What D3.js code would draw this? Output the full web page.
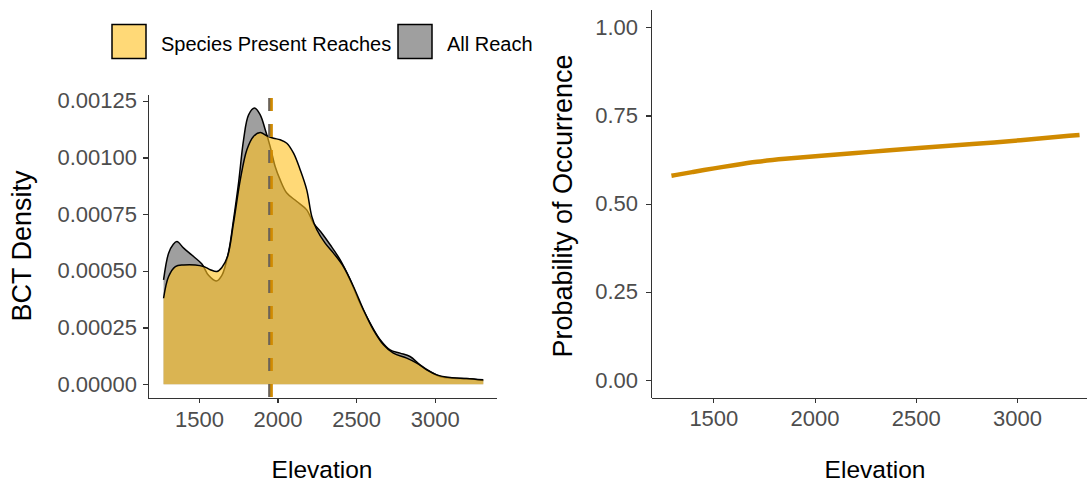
<!DOCTYPE html>
<html lang="en">
<head>
  <meta charset="UTF-8">
  <title>BCT elevation</title>
  <script src="https://cdn.jsdelivr.net/npm/d3@7"></script>
  <style>
    body { margin: 0; background: #fff; }
    svg { font-family: "Liberation Sans", Arial, sans-serif; }
    .axis path, .axis line { stroke: #333; stroke-width: 1.1px; shape-rendering: crispEdges; }
    .axis text { fill: #4d4d4d; font-size: 22px; }
    .title { fill: #000; font-size: 24.5px; }
    .ytitle { fill: #000; font-size: 27px; }
    .legend text { fill: #000; font-size: 20px; }
  </style>
</head>
<body>
<svg width="1087" height="488"></svg>
<script>
  // all reaches density
  var allElev = [1275, 1307, 1335, 1360, 1403, 1466, 1519, 1561, 1610, 1646, 1689, 1720, 1752, 1784, 1816, 1854, 1890, 1922, 1953, 1985, 2017, 2059, 2123, 2186, 2229, 2282, 2335, 2398, 2462, 2525, 2589, 2653, 2716, 2780, 2843, 2907, 2970, 3034, 3119, 3225, 3309];
  var allDens = [0.00046, 0.000578, 0.000615, 0.000629, 0.0006, 0.000563, 0.00053, 0.00048, 0.000455, 0.00048, 0.000585, 0.000725, 0.000887, 0.001078, 0.001188, 0.001218, 0.001188, 0.001122, 0.001049, 0.00096, 0.000901, 0.000843, 0.000806, 0.000769, 0.00071, 0.000666, 0.000615, 0.000549, 0.00046, 0.000357, 0.000269, 0.000196, 0.000151, 0.000137, 0.000122, 0.000085, 0.000056, 0.000034, 0.000026, 0.000024, 0.000016];

  // species present reaches density
  var sppElev = [1275, 1307, 1350, 1403, 1477, 1530, 1572, 1614, 1646, 1682, 1720, 1763, 1805, 1847, 1890, 1932, 1975, 2017, 2059, 2102, 2144, 2186, 2218, 2250, 2303, 2356, 2419, 2483, 2547, 2610, 2674, 2737, 2822, 2886, 2949, 3013, 3098, 3203, 3309];
  var sppDens = [0.000379, 0.000475, 0.000519, 0.000526, 0.000526, 0.000519, 0.000505, 0.000497, 0.000515, 0.000563, 0.00071, 0.000901, 0.001034, 0.001093, 0.00111, 0.001096, 0.001085, 0.001078, 0.001063, 0.001019, 0.000946, 0.000857, 0.00074, 0.000681, 0.000622, 0.000578, 0.000519, 0.000431, 0.000328, 0.00024, 0.000174, 0.000137, 0.000115, 0.000093, 0.000063, 0.000041, 0.000029, 0.000025, 0.000019];

  // mean elevations (dashed lines)
  var meanAll = 1950;
  var meanSpp = 1962;

  // probability of occurrence
  var probElev = [1293, 1400, 1503, 1610, 1710, 1850, 2019, 2279, 2503, 2795, 3000, 3309];
  var probVal = [0.579, 0.59, 0.600, 0.610, 0.619, 0.627, 0.635, 0.647, 0.658, 0.669, 0.679, 0.695];

  var elevTicks = [1500, 2000, 2500, 3000];
  var densTicks = [0, 0.00025, 0.0005, 0.00075, 0.001, 0.00125];
  var probTicks = [0, 0.25, 0.5, 0.75, 1];
  var legendLabels = ["Species Present Reaches", "All Reach"];

  var svg = d3.select("svg");
  var gold = "#d08a00";

  // ---- left panel: densities ----
  var x1 = d3.scaleLinear().domain([1176, 3390]).range([148, 496]);
  var y1 = d3.scaleLinear().domain([-0.000061, 0.00128]).range([398, 94]);

  var area = d3.area()
      .curve(d3.curveCatmullRom)
      .x(function(d) { return x1(d[0]); })
      .y0(y1(0))
      .y1(function(d) { return y1(d[1]); });
  var line = d3.line()
      .curve(d3.curveCatmullRom)
      .x(function(d) { return x1(d[0]); })
      .y(function(d) { return y1(d[1]); });

  var allData = d3.zip(allElev, allDens);
  var sppData = d3.zip(sppElev, sppDens);

  var left = svg.append("g");

  left.append("path").datum(allData).attr("d", area)
      .attr("fill", "#404040").attr("fill-opacity", 0.5);
  left.append("path").datum(allData).attr("d", line)
      .attr("fill", "none").attr("stroke", "#000").attr("stroke-width", 1.5);
  left.append("path").datum(sppData).attr("d", area)
      .attr("fill", "#ffc121").attr("fill-opacity", 0.61);
  left.append("path").datum(sppData).attr("d", line)
      .attr("fill", "none").attr("stroke", "#000").attr("stroke-width", 1.5);

  left.append("line")
      .attr("x1", x1(meanAll)).attr("x2", x1(meanAll))
      .attr("y1", 94).attr("y2", 398)
      .attr("stroke", "#6b6258").attr("stroke-width", 3)
      .attr("stroke-dasharray", "13,13").attr("stroke-dashoffset", 22);
  left.append("line")
      .attr("x1", x1(meanSpp)).attr("x2", x1(meanSpp))
      .attr("y1", 94).attr("y2", 398)
      .attr("stroke", gold).attr("stroke-width", 2.6)
      .attr("stroke-dasharray", "13,13").attr("stroke-dashoffset", 22);

  left.append("g")
      .attr("class", "axis")
      .attr("transform", "translate(0,398)")
      .call(d3.axisBottom(x1).tickValues(elevTicks).tickFormat(d3.format("d")).tickSize(5).tickPadding(8).tickSizeOuter(0));
  left.append("g")
      .attr("class", "axis")
      .attr("transform", "translate(148,0)")
      .call(d3.axisLeft(y1).tickValues(densTicks).tickFormat(d3.format(".5f")).tickSize(5).tickPadding(6).tickSizeOuter(0));

  left.append("text").attr("class", "title")
      .attr("x", 322).attr("y", 478).attr("text-anchor", "middle")
      .text("Elevation");
  left.append("text").attr("class", "ytitle")
      .attr("transform", "translate(31,246) rotate(-90)")
      .attr("text-anchor", "middle")
      .text("BCT Density");

  // legend
  var legend = svg.append("g").attr("class", "legend");
  var keyFill = [["#ffc121", 0.61], ["#404040", 0.5]];
  var keyX = [112, 398];
  legendLabels.forEach(function(lab, i) {
    legend.append("rect")
        .attr("x", keyX[i]).attr("y", 24.5).attr("width", 34).attr("height", 34)
        .attr("fill", keyFill[i][0]).attr("fill-opacity", keyFill[i][1])
        .attr("stroke", "#000").attr("stroke-width", 1.5);
    legend.append("text")
        .attr("x", keyX[i] + 49).attr("y", 51)
        .text(lab);
  });

  // ---- right panel: probability ----
  var x2 = d3.scaleLinear().domain([1192, 3410]).range([651, 1100]);
  var y2 = d3.scaleLinear().domain([-0.05, 1.05]).range([397.6, 9.7]);

  var right = svg.append("g");

  right.append("path")
      .datum(d3.zip(probElev, probVal))
      .attr("d", d3.line()
        .curve(d3.curveBasis)
        .x(function(d) { return x2(d[0]); })
        .y(function(d) { return y2(d[1]); }))
      .attr("fill", "none").attr("stroke", gold).attr("stroke-width", 4.5);

  right.append("g")
      .attr("class", "axis")
      .attr("transform", "translate(0,397.6)")
      .call(d3.axisBottom(x2).tickValues(elevTicks).tickFormat(d3.format("d")).tickSize(5).tickPadding(8).tickSizeOuter(0));
  right.append("g")
      .attr("class", "axis")
      .attr("transform", "translate(651,0)")
      .call(d3.axisLeft(y2).tickValues(probTicks).tickFormat(d3.format(".2f")).tickSize(5).tickPadding(8).tickSizeOuter(0));

  right.append("text").attr("class", "title")
      .attr("x", 875).attr("y", 478).attr("text-anchor", "middle")
      .text("Elevation");
  right.append("text").attr("class", "ytitle")
      .attr("transform", "translate(572,206) rotate(-90)")
      .attr("text-anchor", "middle")
      .text("Probability of Occurrence");
</script>
</body>
</html>
